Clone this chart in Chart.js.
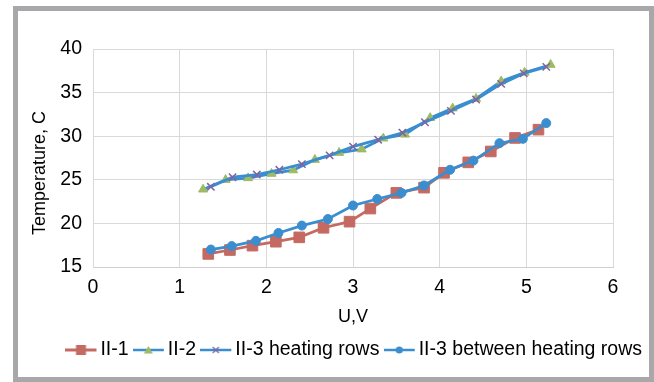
<!DOCTYPE html>
<html><head><meta charset="utf-8">
<script src="https://cdn.jsdelivr.net/npm/chart.js@4/dist/chart.umd.min.js"></script>
<style>
html,body{margin:0;padding:0;background:#fff;overflow:hidden;}
#wrap{position:relative;width:654px;height:382px;}
#c{position:absolute;left:0;top:0;width:654px;height:382px;}
#frame{position:absolute;left:13px;top:6px;width:641px;height:376px;border:5px solid #A8A8AB;box-sizing:border-box;pointer-events:none;}
</style></head><body>
<div id="wrap"><canvas id="c" width="654" height="382"></canvas><div id="frame"></div></div>
<script>
// ---- data ----
const seriesNames = ['II-1', 'II-2', 'II-3 heating rows', 'II-3 between heating rows'];
const xTicks = [0, 1, 2, 3, 4, 5, 6];
const yTicks = [15, 20, 25, 30, 35, 40];

const uII1 = [1.33, 1.58, 1.84, 2.11, 2.38, 2.66, 2.96, 3.20, 3.50, 3.82, 4.05, 4.33, 4.59, 4.87, 5.14];
const tII1 = [16.5, 16.95, 17.45, 17.9, 18.4, 19.5, 20.2, 21.7, 23.5, 24.1, 25.8, 27.0, 28.25, 29.8, 30.75];

const uII2 = [1.27, 1.53, 1.79, 2.06, 2.31, 2.56, 2.84, 3.10, 3.35, 3.60, 3.89, 4.15, 4.42, 4.71, 4.98, 5.28];
const tII2 = [23.9, 25.0, 25.2, 25.7, 26.1, 27.3, 28.1, 28.5, 29.75, 30.2, 32.1, 33.2, 34.3, 36.3, 37.3, 38.2];

const uII3h = [1.36, 1.61, 1.89, 2.15, 2.41, 2.73, 3.00, 3.29, 3.57, 3.83, 4.13, 4.42, 4.71, 4.97, 5.23];
const tII3h = [24.2, 25.3, 25.6, 26.15, 26.8, 27.8, 28.8, 29.6, 30.4, 31.6, 32.9, 34.2, 36.0, 37.2, 37.95];

const uII3b = [1.36, 1.60, 1.88, 2.14, 2.41, 2.71, 3.00, 3.28, 3.56, 3.82, 4.12, 4.39, 4.69, 4.96, 5.23];
const tII3b = [17.0, 17.4, 18.0, 18.9, 19.75, 20.5, 22.05, 22.8, 23.5, 24.35, 26.15, 27.2, 29.2, 29.7, 31.5];

// ---- styles ----
const RED = '#C46A62', BLUE = '#3A8ECF', GREEN = '#9CBB62', PURPLE = '#8064A2';
const FONT = "'Liberation Sans', Arial, sans-serif";
Chart.defaults.font.family = FONT;
Chart.defaults.color = '#000';

function pts(xs, ys) { return xs.map((x, i) => ({x: x, y: ys[i]})); }

function icon(lineColor, lw, drawMarker) {
  const c = document.createElement('canvas');
  c.width = 33; c.height = 14;
  const g = c.getContext('2d');
  g.strokeStyle = lineColor; g.lineWidth = lw;
  g.beginPath(); g.moveTo(0, 7); g.lineTo(31, 7); g.stroke();
  drawMarker(g);
  return c;
}
const icons = [
  icon(RED, 3, g => { g.fillStyle = RED; g.fillRect(10.5, 2, 10, 10); }),
  icon(BLUE, 2.5, g => { g.fillStyle = GREEN; g.beginPath(); g.moveTo(15.5, 3); g.lineTo(20, 10.5); g.lineTo(11, 10.5); g.closePath(); g.fill(); }),
  icon(BLUE, 2.5, g => { g.strokeStyle = PURPLE; g.lineWidth = 1.2; g.beginPath(); g.moveTo(12.5, 4); g.lineTo(18.5, 10); g.moveTo(18.5, 4); g.lineTo(12.5, 10); g.stroke(); }),
  icon(BLUE, 2.5, g => { g.fillStyle = BLUE; g.beginPath(); g.arc(15.5, 7, 3.6, 0, Math.PI * 2); g.fill(); })
];

const yTitlePlugin = {
  id: 'yTitle',
  afterDraw(chart) {
    const ctx = chart.ctx;
    ctx.save();
    ctx.translate(40, 173);
    ctx.rotate(-Math.PI / 2);
    ctx.font = '18px ' + FONT;
    ctx.fillStyle = '#000';
    ctx.textAlign = 'center';
    ctx.textBaseline = 'middle';
    ctx.fillText('Temperature, C', 0, 0);
    ctx.restore();
  }
};

new Chart(document.getElementById('c'), {
  type: 'scatter',
  data: {
    datasets: [
      {label: seriesNames[0], data: pts(uII1, tII1), showLine: true, order: 4,
       borderColor: RED, borderWidth: 2.75, pointStyle: 'rect', pointRadius: 7.5,
       pointBackgroundColor: RED, pointBorderColor: RED, pointBorderWidth: 1},
      {label: seriesNames[1], data: pts(uII2, tII2), showLine: true, order: 3,
       borderColor: BLUE, borderWidth: 2.75, pointStyle: 'triangle', pointRadius: 5.2,
       pointBackgroundColor: GREEN, pointBorderColor: GREEN, pointBorderWidth: 1},
      {label: seriesNames[2], data: pts(uII3h, tII3h), showLine: true, order: 2,
       borderColor: BLUE, borderWidth: 2.75, pointStyle: 'crossRot', pointRadius: 5.2,
       pointBackgroundColor: PURPLE, pointBorderColor: PURPLE, pointBorderWidth: 1.5},
      {label: seriesNames[3], data: pts(uII3b, tII3b), showLine: true, order: 1,
       borderColor: BLUE, borderWidth: 2.75, pointStyle: 'circle', pointRadius: 4.5,
       pointBackgroundColor: BLUE, pointBorderColor: BLUE, pointBorderWidth: 1}
    ]
  },
  options: {
    responsive: false,
    animation: false,
    events: [],
    layout: {padding: {left: 0, right: 0, top: 49, bottom: 12.25}},
    scales: {
      x: {
        type: 'linear', position: 'bottom',
        min: xTicks[0], max: xTicks[xTicks.length - 1],
        ticks: {stepSize: 1, padding: 9, font: {size: 19.5}, color: '#000'},
        grid: {color: '#D9D9D9', lineWidth: 1, drawTicks: false},
        border: {color: '#D0D0D0', width: 1},
        title: {display: true, text: 'U,V', font: {size: 18}, color: '#000', padding: {top: 0, bottom: 0}},
        afterFit: s => { s.height = 61.25; }
      },
      y: {
        type: 'linear', position: 'left',
        min: yTicks[0], max: yTicks[yTicks.length - 1],
        ticks: {stepSize: 5, padding: 11, font: {size: 19.5}, color: '#000'},
        grid: {color: '#D9D9D9', lineWidth: 1, drawTicks: false},
        border: {color: '#D9D9D9', width: 1},
        title: {display: false},
        afterFit: s => { s.width = 93; }
      },
      y2: {
        type: 'linear', position: 'right', display: true,
        grid: {display: false}, border: {display: false}, ticks: {display: false},
        afterFit: s => { s.width = 41; }
      }
    },
    plugins: {
      tooltip: {enabled: false},
      legend: {
        display: true, position: 'bottom', align: 'end',
        labels: {
          usePointStyle: true, pointStyleWidth: 17.5, padding: 12,
          font: {size: 19.5}, color: '#000',
          generateLabels: chart => chart.data.datasets.map((ds, i) => ({
            text: ds.label, pointStyle: icons[i], datasetIndex: i, hidden: false,
            lineWidth: 0, fillStyle: 'rgba(0,0,0,0)', strokeStyle: 'rgba(0,0,0,0)', fontColor: '#000'
          }))
        }
      }
    }
  },
  plugins: [yTitlePlugin]
});
</script>
</body></html>
